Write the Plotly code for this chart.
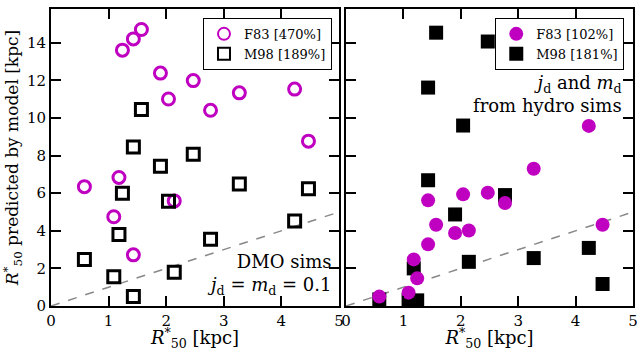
import plotly.graph_objects as go

# Observed R50* [kpc] (same galaxies in both panels)
r50_obs = [0.58, 1.09, 1.18, 1.24, 1.43, 1.43, 1.57, 1.90, 2.04, 2.14, 2.47, 2.77, 3.27, 4.23, 4.47]

# Left panel: DMO sims, jd = md = 0.1
f83_dmo = [6.35, 4.75, 6.84, 13.61, 14.21, 2.72, 14.71, 12.39, 11.01, 5.59, 11.99, 10.41, 11.34, 11.54, 8.77]
m98_dmo = [2.48, 1.56, 3.81, 6.00, 0.50, 8.46, 10.45, 7.43, 5.57, 1.80, 8.07, 3.55, 6.49, 4.52, 6.24]

# Right panel: jd and md from hydro sims
f83_hydro = [0.50, 0.71, 2.48, 1.47, 3.28, 5.62, 4.32, 3.88, 5.94, 4.02, 6.03, 5.48, 7.30, 9.58, 4.32]
m98_hydro = [0.35, 0.30, 2.00, 0.30, 11.62, 6.69, 14.54, 4.87, 9.60, 2.35, 14.07, 5.90, 2.55, 3.09, 1.17]

one_to_one = [0, 5]

MAG = "#c000c0"
FONT = "DejaVu Serif"

fig = go.Figure()

for xa, ya in (("x", "y"), ("x2", "y2")):
    fig.add_trace(go.Scatter(x=one_to_one, y=one_to_one, mode="lines", xaxis=xa, yaxis=ya,
                             line=dict(color="#888888", width=1.5, dash="dash"),
                             showlegend=False, hoverinfo="skip"))

fig.add_trace(go.Scatter(x=r50_obs, y=f83_dmo, mode="markers", name="F83 [470%]",
                         marker=dict(symbol="circle-open", size=12, color=MAG, line=dict(width=3, color=MAG)),
                         xaxis="x", yaxis="y", legend="legend"))
fig.add_trace(go.Scatter(x=r50_obs, y=m98_dmo, mode="markers", name="M98 [189%]",
                         marker=dict(symbol="square-open", size=12, color="black", line=dict(width=3, color="black")),
                         xaxis="x", yaxis="y", legend="legend"))

fig.add_trace(go.Scatter(x=r50_obs, y=m98_hydro, mode="markers", name="M98 [181%]",
                         marker=dict(symbol="square", size=14, color="black"),
                         xaxis="x2", yaxis="y2", legend="legend2", legendrank=2))
fig.add_trace(go.Scatter(x=r50_obs, y=f83_hydro, mode="markers", name="F83 [102%]",
                         marker=dict(symbol="circle", size=14, color=MAG),
                         xaxis="x2", yaxis="y2", legend="legend2", legendrank=1))

ax_common = dict(range=[0, 5], tickvals=[0, 1, 2, 3, 4, 5], ticks="inside", ticklen=10,
                 tickwidth=1.5, tickcolor="black", showline=True, linecolor="black", linewidth=2,
                 mirror="ticks", showgrid=False, zeroline=False,
                 tickfont=dict(family=FONT, size=15, color="black"))
y_common = dict(range=[0, 15.8], tickvals=[0, 2, 4, 6, 8, 10, 12, 14], ticks="inside", ticklen=10,
                tickwidth=1.5, tickcolor="black", showline=True, linecolor="black", linewidth=2,
                mirror="ticks", showgrid=False, zeroline=False,
                tickfont=dict(family=FONT, size=15, color="black"))

xtitle = dict(text="<i>R</i><sup>*</sup><sub>50</sub> [kpc]", font=dict(family=FONT, size=18, color="black"), standoff=5)

fig.update_layout(
    template="none",
    width=638, height=351,
    margin=dict(l=51, r=5, t=9, b=45),
    paper_bgcolor="white", plot_bgcolor="white",
    font=dict(family=FONT, color="black"),
    xaxis=dict(domain=[0, 0.4948], title=xtitle, **ax_common),
    xaxis2=dict(domain=[0.5069, 1], title=xtitle, anchor="y2", **ax_common),
    yaxis=dict(title=dict(text="<i>R</i><sup>*</sup><sub>50</sub> predicted by model [kpc]",
                          font=dict(family=FONT, size=17, color="black"), standoff=4), **y_common),
    yaxis2=dict(anchor="x2", showticklabels=False, **y_common),
    legend=dict(x=0.4948 - 0.012, y=0.97, xanchor="right", yanchor="top",
                bgcolor="white", bordercolor="black", borderwidth=1,
                font=dict(family=FONT, size=13, color="black"), tracegroupgap=0,
                itemsizing="constant"),
    legend2=dict(x=0.985, y=0.97, xanchor="right", yanchor="top",
                 bgcolor="white", bordercolor="black", borderwidth=1,
                 font=dict(family=FONT, size=13, color="black"), tracegroupgap=0),
    annotations=[
        dict(xref="x", yref="y", x=4.9, y=0.3, xanchor="right", yanchor="bottom", showarrow=False,
             align="right",
             text="DMO sims<br><i>j</i><sub>d</sub> = <i>m</i><sub>d</sub> = 0.1",
             font=dict(family=FONT, size=18, color="black")),
        dict(xref="x2", yref="y2", x=4.85, y=12.55, xanchor="right", yanchor="top", showarrow=False,
             align="right",
             text="<i>j</i><sub>d</sub> and <i>m</i><sub>d</sub><br>from hydro sims",
             font=dict(family=FONT, size=18, color="black")),
    ],
)

fig.write_html("out.html")
